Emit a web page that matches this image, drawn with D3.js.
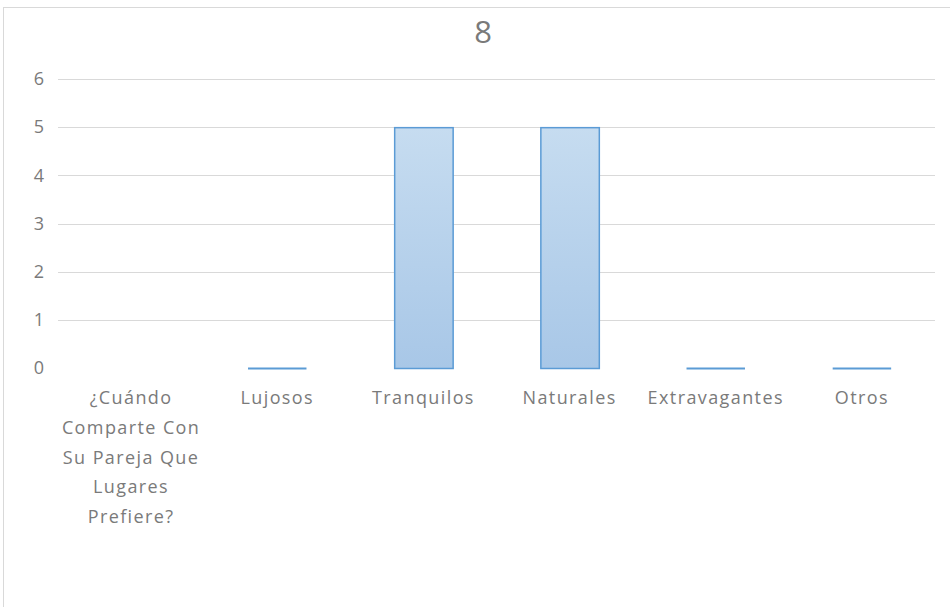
<!DOCTYPE html>
<html>
<head>
<meta charset="utf-8">
<script src="https://cdn.jsdelivr.net/npm/d3@7"></script>
<style>
  body { margin: 0; background: #fff; }
  text { font-family: "Open Sans", sans-serif; fill: #7a7a7a; }
</style>
</head>
<body>
<script>
const w = 950
const h = 607

// Chart data
const categories = ["¿Cuándo Comparte Con Su Pareja Que Lugares Prefiere?", "Lujosos", "Tranquilos", "Naturales", "Extravagantes", "Otros"]
const values = [null, 0, 5, 5, 0, 0]
const yTicks = [0, 1, 2, 3, 4, 5, 6]
const title = "8"

const margin = {top: 79, right: 15, bottom: 239, left: 58}

const svg = d3.select("body")
              .append("svg")
              .attr("width", w)
              .attr("height", h)

// Outer chart border
svg.append("rect")
   .attr("x", 3.5)
   .attr("y", 7.5)
   .attr("width", w + 10)
   .attr("height", h + 10)
   .attr("fill", "#fff")
   .attr("stroke", "#d9d9d9")

const defs = svg.append("defs")
const grad = defs.append("linearGradient")
                 .attr("id", "barFill")
                 .attr("x1", 0).attr("y1", 0)
                 .attr("x2", 0).attr("y2", 1)
grad.append("stop").attr("offset", "0%").attr("stop-color", "#c6dcf0")
grad.append("stop").attr("offset", "100%").attr("stop-color", "#a8c7e7")

const x = d3.scaleBand()
            .domain(categories)
            .range([margin.left, w - margin.right])
            .paddingInner(0.6)
            .paddingOuter(0.3)

const y = d3.scaleLinear()
            .domain([0, 6])
            .range([h - margin.bottom, margin.top])

// Gridlines (no line at zero)
svg.append("g")
   .selectAll("line")
   .data(yTicks.filter(t => t > 0))
   .enter()
   .append("line")
   .attr("x1", margin.left)
   .attr("x2", w - margin.right)
   .attr("y1", d => Math.round(y(d)) + 0.5)
   .attr("y2", d => Math.round(y(d)) + 0.5)
   .attr("stroke", "#d9d9d9")
   .attr("stroke-width", 1)

// Y tick labels
svg.append("g")
   .selectAll("text")
   .data(yTicks)
   .enter()
   .append("text")
   .attr("x", 44)
   .attr("y", d => y(d))
   .attr("dy", "0.35em")
   .attr("text-anchor", "end")
   .style("font-size", "18px")
   .text(d => d)

const barData = categories.map((c, i) => ({cat: c, val: values[i]})).filter(d => d.val !== null)

// Bars with a value
svg.append("g")
   .selectAll("rect")
   .data(barData.filter(d => d.val > 0))
   .enter()
   .append("rect")
   .attr("x", d => x(d.cat) + 0.5)
   .attr("y", d => y(d.val) + 0.5)
   .attr("width", x.bandwidth())
   .attr("height", d => y(0) - y(d.val))
   .attr("fill", "url(#barFill)")
   .attr("stroke", "#5b9bd5")
   .attr("stroke-width", 1.5)

// Zero bars show only as their outline
svg.append("g")
   .selectAll("line")
   .data(barData.filter(d => d.val === 0))
   .enter()
   .append("line")
   .attr("x1", d => x(d.cat))
   .attr("x2", d => x(d.cat) + x.bandwidth())
   .attr("y1", y(0) + 0.5)
   .attr("y2", y(0) + 0.5)
   .attr("stroke", "#5b9bd5")
   .attr("stroke-width", 2)

// Category labels, wrapped to band width
const maxLabel = 140
const labels = svg.append("g")
                  .selectAll("text")
                  .data(categories)
                  .enter()
                  .append("text")
                  .attr("text-anchor", "middle")
                  .style("font-size", "18px")
                  .style("letter-spacing", "1.4px")
                  .attr("y", 398)
                  .attr("dy", "0.35em")

labels.each(function(cat) {
  const el = d3.select(this)
  const cx = x(cat) + x.bandwidth() / 2
  const words = cat.split(" ")
  let line = []
  let lineNo = 0
  let tspan = el.append("tspan").attr("x", cx).attr("y", 398).attr("dy", "0.35em")
  words.forEach(word => {
    line.push(word)
    tspan.text(line.join(" "))
    if (tspan.node().getComputedTextLength() > maxLabel && line.length > 1) {
      line.pop()
      tspan.text(line.join(" "))
      line = [word]
      lineNo++
      tspan = el.append("tspan")
                .attr("x", cx)
                .attr("y", 398 + lineNo * 29.7)
                .attr("dy", "0.35em")
                .text(word)
    }
  })
})

// Title
svg.append("text")
   .attr("x", 483)
   .attr("y", 32)
   .attr("dy", "0.35em")
   .attr("text-anchor", "middle")
   .style("font-size", "31px")
   .text(title)
</script>
</body>
</html>
